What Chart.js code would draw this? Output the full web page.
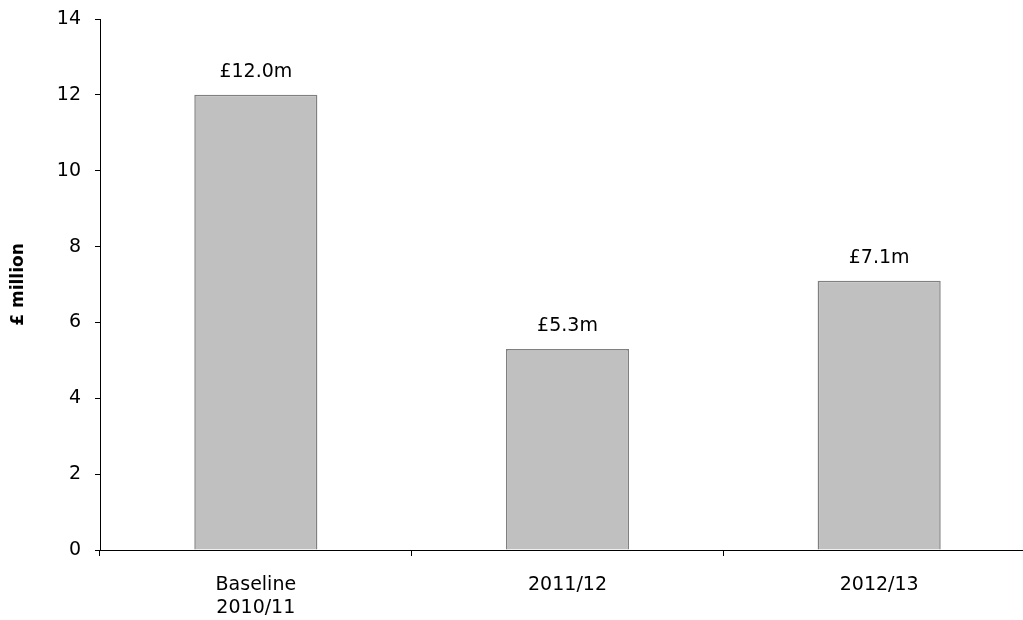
<!DOCTYPE html>
<html>
<head>
<meta charset="utf-8">
<script src="https://cdn.jsdelivr.net/npm/chart.js@4/dist/chart.umd.min.js"></script>
<style>
  html, body { margin: 0; padding: 0; background: #fff; overflow: hidden; width: 1023px; height: 620px; }
  canvas { display: block; }
</style>
</head>
<body>
<canvas id="c" width="1036" height="620"></canvas>
<script>
const categories = [["Baseline", "2010/11"], "2011/12", "2012/13"];
const values = [12.0, 5.3, 7.1];
const yTitle = "£ million";
const yTicks = [0, 2, 4, 6, 8, 10, 12, 14];

const FONT = "'DejaVu Sans', sans-serif";

const valueLabels = {
  id: 'valueLabels',
  afterDatasetsDraw(chart) {
    const ctx = chart.ctx;
    const meta = chart.getDatasetMeta(0);
    ctx.save();
    ctx.font = "19px " + FONT;
    ctx.fillStyle = "#000";
    ctx.textAlign = "center";
    ctx.textBaseline = "middle";
    meta.data.forEach((bar, i) => {
      ctx.fillText("£" + values[i].toFixed(1) + "m", bar.x, bar.y - 23);
    });
    ctx.restore();
  }
};

new Chart(document.getElementById('c'), {
  type: 'bar',
  data: {
    labels: categories,
    datasets: [{
      data: values,
      backgroundColor: '#C0C0C0',
      borderColor: '#808080',
      borderWidth: 1.5,
      barPercentage: 0.395,
      categoryPercentage: 1.0
    }]
  },
  options: {
    responsive: false,
    animation: false,
    devicePixelRatio: 1,
    layout: { padding: { top: 19, right: 1, left: 0, bottom: 0 } },
    plugins: {
      legend: { display: false },
      tooltip: { enabled: false }
    },
    scales: {
      x: {
        offset: true,
        border: { display: true, color: '#000', width: 1 },
        grid: { display: true, drawOnChartArea: false, drawTicks: true, tickLength: 6, color: '#000', offset: true },
        ticks: { color: '#000', font: { family: FONT, size: 19 }, padding: 18, maxRotation: 0 },
        afterFit(scale) { scale.height = 70; }
      },
      y: {
        min: 0, max: 14,
        afterBuildTicks(scale) { scale.ticks = yTicks.map(v => ({ value: v })); },
        border: { display: true, color: '#000', width: 1 },
        grid: { display: true, drawOnChartArea: false, drawTicks: true, tickLength: 5, color: '#000' },
        ticks: { color: '#000', font: { family: FONT, size: 19, lineHeight: 0.4 }, padding: 14 },
        title: { display: true, text: yTitle, color: '#000', font: { family: FONT, size: 17, weight: 'bold' }, padding: { top: 8, bottom: 0 } },
        afterFit(scale) { scale.width = 100; }
      }
    }
  },
  plugins: [valueLabels]
});
</script>
</body>
</html>
